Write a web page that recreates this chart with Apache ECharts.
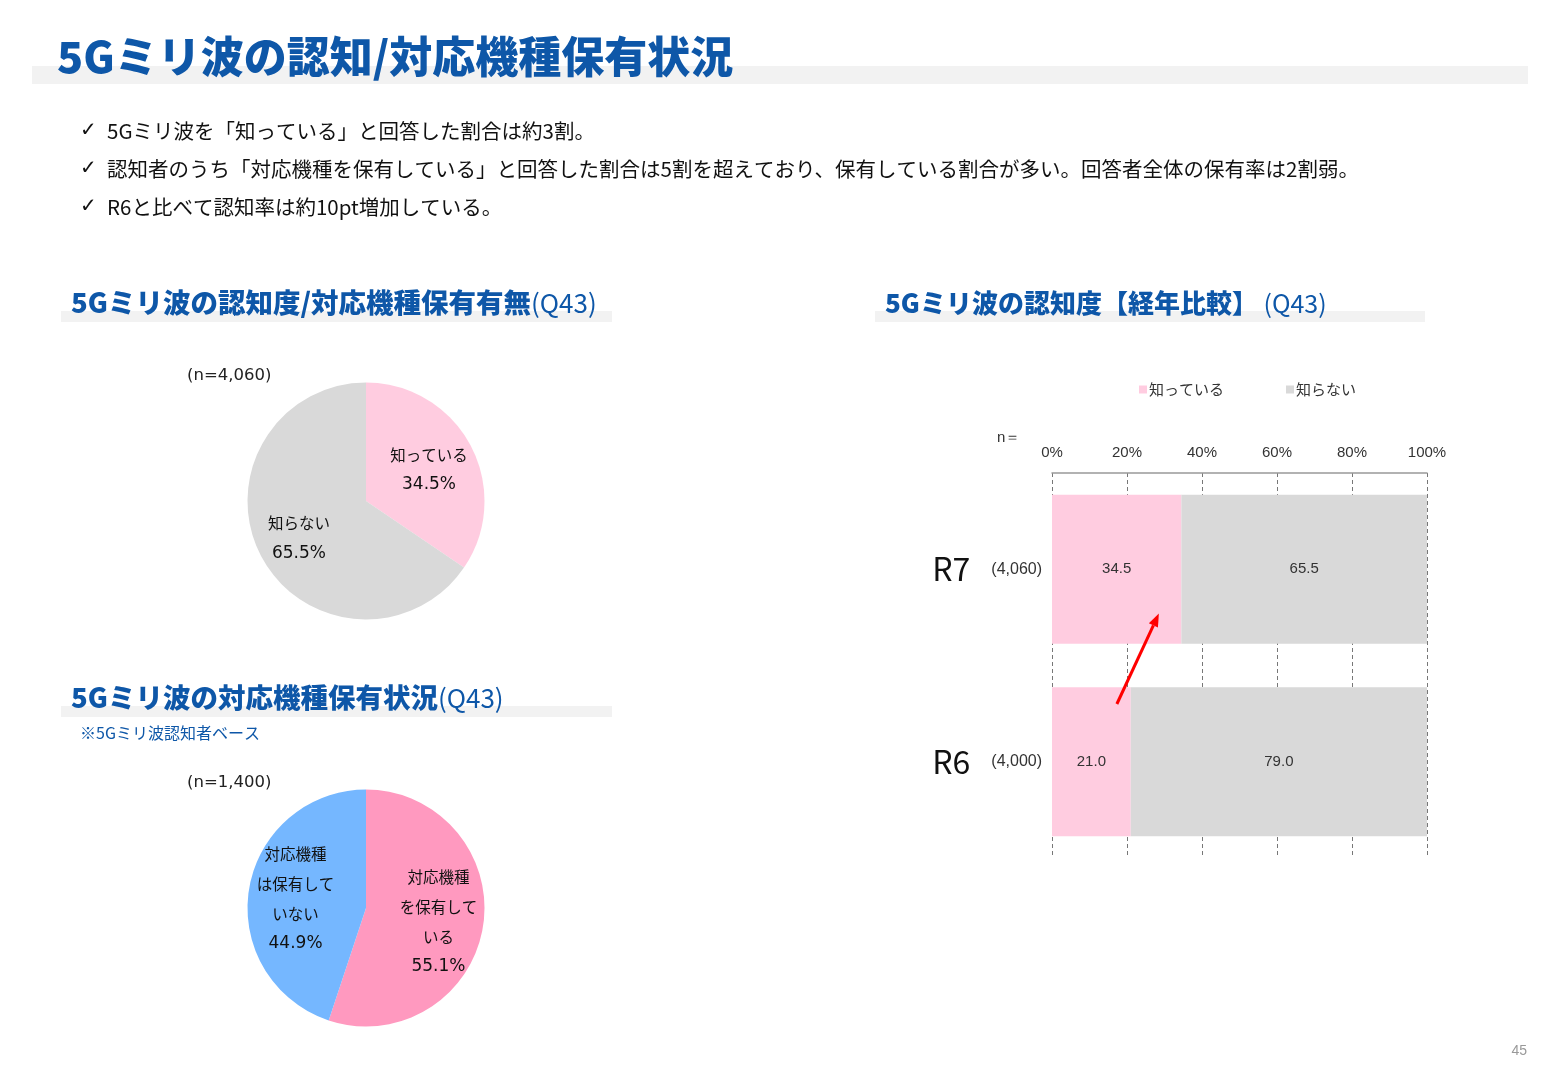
<!DOCTYPE html>
<html><head><meta charset="utf-8">
<script src="https://cdn.jsdelivr.net/npm/echarts@6/dist/echarts.min.js"></script>
<style>html,body{margin:0;padding:0;background:#fff}#c{width:1560px;height:1080px}</style>
</head><body><div id="c"></div>
<script>
// ---- data ----
const pie1Names = ['知っている', '知らない'];
const pie1Values = [34.5, 65.5];
const pie1Labels = ['知っている', '知らない'];
const pie1N = '(n=4,060)';

const pie2Names = ['対応機種を保有している', '対応機種は保有していない'];
const pie2Values = [55.1, 44.9];
const pie2Labels = ['対応機種\nを保有して\nいる', '対応機種\nは保有して\nいない'];
const pie2N = '(n=1,400)';

const barCategories = ['R7', 'R6'];
const barSampleSizes = ['(4,060)', '(4,000)'];
const barSeriesNames = ['知っている', '知らない'];
const barKnow = [34.5, 21.0];
const barDontKnow = [65.5, 79.0];

const bullets = [
  '5Gミリ波を「知っている」と回答した割合は約3割。',
  '認知者のうち「対応機種を保有している」と回答した割合は5割を超えており、保有している割合が多い。回答者全体の保有率は2割弱。',
  'R6と比べて認知率は約10pt増加している。'
];

// ---- style ----
const FONT = '"Noto Sans CJK JP", "Noto Sans", sans-serif';
const FONT_M = '"DejaVu Sans", "Noto Sans CJK JP", sans-serif';
const FONT_A = '"Liberation Sans", Arial, sans-serif';
const BLUE = '#0E57A8';
const PINK_L = '#FFCCE0';
const GRAY = '#D9D9D9';
const PINK = '#FF99BF';
const SKY = '#75B7FF';

const chart = echarts.init(document.getElementById('c'));

function band(x, y, w, h) {
  return { type: 'rect', shape: { x, y, width: w, height: h }, style: { fill: '#F2F2F2' }, z: 0 };
}
function heading(x, y, bold, normal, size, nsize) {
  return {
    type: 'text', x, y, z: 5,
    style: {
      text: '{b|' + bold + '}{n|' + normal + '}',
      verticalAlign: 'middle',
      rich: {
        b: { fontFamily: FONT, fontWeight: 900, fontSize: size, fill: BLUE },
        n: { fontFamily: FONT, fontWeight: 'normal', fontSize: nsize, fill: BLUE }
      }
    }
  };
}

const graphics = [
  band(32, 66, 1496, 18),
  { type: 'text', x: 57, y: 57, z: 5, style: { text: '5Gミリ波の認知/対応機種保有状況', fontFamily: FONT, fontWeight: 900, fontSize: 43, fill: BLUE, verticalAlign: 'middle' } },
  band(61, 311, 551, 11),
  band(875, 311, 550, 11),
  band(61, 706, 551, 11),
  heading(71, 303, '5Gミリ波の認知度/対応機種保有有無', '(Q43)', 27.5, 26),
  heading(885, 303, '5Gミリ波の認知度【経年比較】', ' (Q43)', 26, 25),
  heading(71, 698, '5Gミリ波の対応機種保有状況', '(Q43)', 27.5, 26),
  { type: 'text', x: 80, y: 733, style: { text: '※5Gミリ波認知者ベース', fontFamily: FONT, fontSize: 16, fill: BLUE, verticalAlign: 'middle' } },
  { type: 'text', x: 187, y: 376, style: { text: pie1N, fontFamily: FONT_M, fontSize: 16.5, fill: '#222', verticalAlign: 'middle' } },
  { type: 'text', x: 187, y: 783, style: { text: pie2N, fontFamily: FONT_M, fontSize: 16.5, fill: '#222', verticalAlign: 'middle' } },
  { type: 'text', x: 997, y: 438, style: { text: 'n＝', fontFamily: FONT_A, fontSize: 15, fill: '#333', verticalAlign: 'middle' } },
  { type: 'text', x: 1527, y: 1051, style: { text: '45', fontFamily: FONT_A, fontSize: 14, fill: '#999', align: 'right', verticalAlign: 'middle' } }
];
bullets.forEach((t, i) => {
  graphics.push({ type: 'text', x: 80, y: 131 + i * 38, style: { text: '✓', fontFamily: '"DejaVu Sans", sans-serif', fontSize: 20, fill: '#111', verticalAlign: 'middle' } });
  graphics.push({ type: 'text', x: 107, y: 131 + i * 38, style: { text: t, fontFamily: FONT, fontSize: 20.5, fill: '#111', verticalAlign: 'middle' } });
});

const pieLabel = {
  show: true, position: 'inside',
  formatter: p => p.data.labelText.split('\n').map(s => '{t|' + s + '}').join('\n') + '\n{p|' + p.value.toFixed(1) + '%}',
  rich: {
    t: { fontFamily: FONT, fontSize: 15.5, color: '#111', lineHeight: 30 },
    p: { fontFamily: FONT_M, fontSize: 17, color: '#111', lineHeight: 30 }
  }
};

const option = {
  backgroundColor: '#fff',
  animation: false,
  textStyle: { fontFamily: FONT },
  legend: {
    data: barSeriesNames,
    left: 1134, top: 377,
    icon: 'rect', itemWidth: 8, itemHeight: 8, itemGap: 62,
    textStyle: { fontFamily: FONT, fontSize: 15, color: '#333', padding: [0, 0, 0, -3] }
  },
  grid: { left: 1052, width: 375, top: 473, height: 385, containLabel: false },
  xAxis: {
    type: 'value', position: 'top', min: 0, max: 100, interval: 20,
    axisLine: { show: true, lineStyle: { color: '#999', width: 1.5 } },
    axisTick: { show: false },
    axisLabel: { margin: 13, fontSize: 15, color: '#333', fontFamily: FONT_A, formatter: v => v + '%' },
    splitLine: { show: true, lineStyle: { color: '#777', type: [4, 3], width: 1 } }
  },
  yAxis: {
    type: 'category', inverse: true, data: barCategories,
    axisLine: { show: false }, axisTick: { show: false },
    axisLabel: {
      margin: 10,
      formatter: (v, i) => '{a|' + v + '}{b|' + barSampleSizes[i] + '}',
      rich: {
        a: { fontFamily: FONT, fontSize: 32, color: '#111', width: 59, align: 'left' },
        b: { fontFamily: FONT_A, fontSize: 16, color: '#333' }
      }
    }
  },
  graphic: graphics,
  series: [
    {
      type: 'pie', center: [366, 501], radius: 118.5, startAngle: 90, clockwise: true,
      label: pieLabel, labelLine: { show: false }, silent: true,
      itemStyle: { borderWidth: 0 },
      data: pie1Names.map((n, i) => ({
        name: n, value: pie1Values[i], labelText: pie1Labels[i],
        itemStyle: { color: [PINK_L, GRAY][i] },
        label: { offset: [[8, -2], [-12, 8]][i] }
      }))
    },
    {
      type: 'pie', center: [366, 908], radius: 118.5, startAngle: 90, clockwise: true,
      label: pieLabel, labelLine: { show: false }, silent: true,
      itemStyle: { borderWidth: 0 },
      data: pie2Names.map((n, i) => ({
        name: n, value: pie2Values[i], labelText: pie2Labels[i],
        itemStyle: { color: [PINK, SKY][i] },
        label: { offset: [[11, 4], [-9, 1]][i] }
      }))
    },
    {
      name: barSeriesNames[0], type: 'bar', stack: 'a', data: barKnow, barCategoryGap: '22.6%',
      itemStyle: { color: PINK_L },
      label: { show: true, position: 'inside', fontSize: 15, color: '#333', fontFamily: FONT_A, formatter: p => p.value.toFixed(1) }
    },
    {
      name: barSeriesNames[1], type: 'bar', stack: 'a', data: barDontKnow, barCategoryGap: '22.6%',
      itemStyle: { color: GRAY },
      label: { show: true, position: 'inside', fontSize: 15, color: '#333', fontFamily: FONT_A, formatter: p => p.value.toFixed(1) }
    }
  ]
};
chart.setOption(option);

// red arrow annotation from R6 toward R7, positioned via the axis scales
const pR7 = chart.convertToPixel({ gridIndex: 0 }, [0, 'R7']);
const pR6 = chart.convertToPixel({ gridIndex: 0 }, [0, 'R6']);
const xs = chart.convertToPixel({ gridIndex: 0 }, [17.3, 'R6'])[0];
const xe = chart.convertToPixel({ gridIndex: 0 }, [28.5, 'R7'])[0];
const ys = pR6[1] + (pR7[1] - pR6[1]) * 0.30;
const ye = pR6[1] + (pR7[1] - pR6[1]) * 0.77;
const ang = Math.atan2(ye - ys, xe - xs);
const hl = 13, hw = 5;
const bx = xe - hl * Math.cos(ang), by = ye - hl * Math.sin(ang);
const nx = -Math.sin(ang), ny = Math.cos(ang);
chart.setOption({
  graphic: graphics.concat([
    { type: 'line', z: 20, shape: { x1: xs, y1: ys, x2: bx, y2: by }, style: { stroke: '#FF0000', lineWidth: 3 } },
    { type: 'polygon', z: 20, shape: { points: [[xe, ye], [bx + nx * hw, by + ny * hw], [bx - nx * hw, by - ny * hw]] }, style: { fill: '#FF0000' } }
  ])
});
</script></body></html>
